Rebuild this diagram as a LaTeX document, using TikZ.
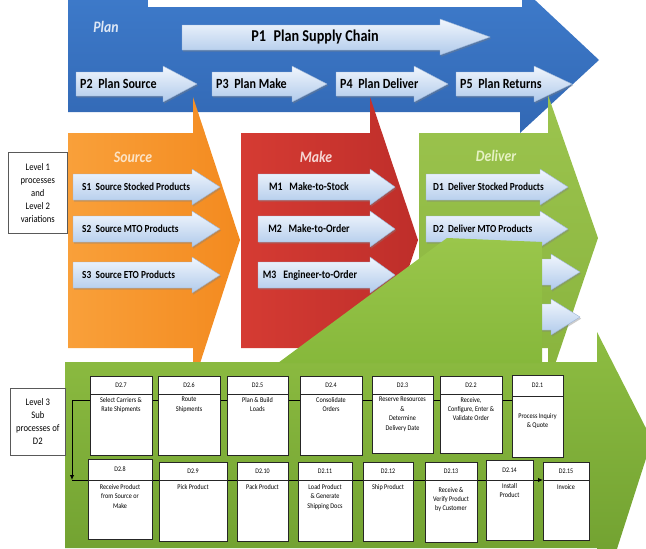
\documentclass[tikz,border=0pt]{standalone}
\usepackage{fontspec}
\setmainfont{Carlito}[FakeStretch=0.86]
\usetikzlibrary{shadows,arrows.meta}
\definecolor{bluetop}{HTML}{3E7BCB}
\definecolor{bluebot}{HTML}{3268B4}
\definecolor{orlt}{HTML}{F9A03A}
\definecolor{ordk}{HTML}{F38A1F}
\definecolor{redlt}{HTML}{D53B33}
\definecolor{reddk}{HTML}{BE2E2A}
\definecolor{grlt}{HTML}{9CC44E}
\definecolor{grdk}{HTML}{88B33D}
\definecolor{bandtop}{HTML}{8EBD42}
\definecolor{bandbot}{HTML}{6B9B2D}
\definecolor{calltop}{HTML}{9AC64B}
\definecolor{callbot}{HTML}{86B83B}
\definecolor{ltop}{HTML}{F1F6FD}
\definecolor{lbot}{HTML}{B0CAEB}
\definecolor{ledge}{HTML}{9BB4D6}
\definecolor{plantitle}{HTML}{DDE7F5}
\definecolor{srctitle}{HTML}{FCE3C6}
\definecolor{maketitle}{HTML}{F6D6D4}
\definecolor{deltitle}{HTML}{E6F2C4}
\newcommand{\harrow}[7]{\path[#1] (#2,#5-#6) -- (#3,#5-#6) -- (#3,#5-#7) -- (#4,#5) -- (#3,#5+#7) -- (#3,#5+#6) -- (#2,#5+#6) -- cycle;}
\newcommand{\lbox}[9]{%
  \node[lbox, minimum width={#3-#2}, minimum height={#6-#4}, anchor=north west] (#1) at (#2,#4) {};
  \draw[lboxline] (#2,#5) -- (#3,#5);
  \node[hdr] (#1h) at ({(#2+#3)/2},{(#4+#5)/2}) {#7};
  \node[btxt, anchor=north] (#1t) at ({(#2+#3)/2},#9) {#8};
}
\begin{document}
\begin{tikzpicture}[x=1pt,y=-1pt,
  lvl/.style={top color=ltop, bottom color=lbot, draw=ledge, line width=0.4pt,
    drop shadow={shadow xshift=1.2pt, shadow yshift=-1.6pt, opacity=0.4}},
  bluearrow/.style={top color=bluetop, bottom color=bluebot},
  orarrow/.style={left color=orlt, right color=ordk},
  redarrow/.style={left color=redlt, right color=reddk},
  grarrow/.style={top color=grlt, bottom color=grdk},
  band/.style={top color=bandtop, bottom color=bandbot},
  callout/.style={top color=calltop, bottom color=callbot},
  title/.style={font=\bfseries\itshape\fontsize{16}{18}\selectfont, inner sep=0pt},
  plab/.style={font=\bfseries\fontsize{14}{16}\selectfont, inner sep=0pt, text=black},
  slab/.style={font=\bfseries\fontsize{10.8}{12}\selectfont, inner sep=0pt, text=black},
  mlab/.style={font=\bfseries\fontsize{11.4}{12}\selectfont, inner sep=0pt, text=black},
  lvbox/.style={draw=black!65, fill=white, line width=0.6pt, align=center,
    font=\fontsize{10}{13}\selectfont, inner sep=1pt},
  lbox/.style={draw=black!85, fill=white, line width=0.8pt, inner sep=0pt,
    drop shadow={shadow xshift=1pt, shadow yshift=-1pt, opacity=0.3}},
  lboxline/.style={draw=black!85, line width=0.6pt},
  hdr/.style={font=\fontsize{7}{8}\selectfont, inner sep=0pt},
  btxt/.style={font=\fontsize{7.2}{9.4}\selectfont, inner sep=0pt, align=center},
  conn/.style={draw=black, line width=0.9pt},
  conntip/.style={-{Latex[length=5pt,width=4.5pt]}}
]
\useasboundingbox (0,0) rectangle (646,549);
\clip (0,0) rectangle (646,549);

% ---- Plan band
\path[bluearrow] (68,-5) -- (520,-5) -- (520,-14) -- (599,60) -- (520,133) -- (520,112) -- (68,112) -- cycle;
\path[fill=white] (148,-2) rectangle (522,7);

% ---- Level 1 arrows
\path[orarrow] (68,133) -- (193,133) -- (193,97) -- (240,240) -- (193,385) -- (193,348) -- (68,348) -- cycle;
\path[redarrow] (241,133) -- (370,133) -- (370,97) -- (418,240) -- (370,385) -- (370,348) -- (241,348) -- cycle;
\path[grarrow] (419,133) -- (548,133) -- (548,95) -- (598,238) -- (548,385) -- (548,348) -- (419,348) -- cycle;

% ---- Plan sub-arrows
\path[lvl] (182,25) -- (440,25) -- (440,19) -- (490,37) -- (440,55) -- (440,50) -- (182,50) -- cycle;
\harrow{lvl}{76}{163}{197}{84}{12}{18}
\harrow{lvl}{212}{292}{327}{84}{12}{18}
\harrow{lvl}{336}{414}{448}{84}{12}{18}
\harrow{lvl}{456}{534}{572}{84}{12}{18}

\node[title, text=plantitle] (tplan) at (106,27) {Plan};
\node[plab, font=\bfseries\fontsize{16.5}{18}\selectfont] (p1) at (315,37) {P1\hspace{0.45em}Plan Supply Chain};
\node[plab, anchor=west] (p2) at (80,84) {P2\hspace{0.4em}Plan Source};
\node[plab, anchor=west] (p3) at (216,84) {P3\hspace{0.4em}Plan Make};
\node[plab, anchor=west] (p4) at (340,84) {P4\hspace{0.4em}Plan Deliver};
\node[plab, anchor=west] (p5) at (460,84) {P5\hspace{0.4em}Plan Returns};

% ---- Level 2 arrows
\harrow{lvl}{73}{192}{220}{187}{13}{18}
\harrow{lvl}{73}{192}{220}{229}{13}{18}
\harrow{lvl}{73}{192}{220}{275}{13}{18}
\harrow{lvl}{258}{370}{395}{187}{13}{18}
\harrow{lvl}{258}{370}{395}{229}{13}{18}
\harrow{lvl}{258}{370}{395}{275}{13}{18}
\harrow{lvl}{426}{540}{568}{187}{13}{18}
\harrow{lvl}{426}{540}{568}{229}{13}{18}
\harrow{lvl}{430}{551}{580}{272}{13}{18}
\harrow{lvl}{430}{551}{580}{317}{13}{18}

\node[title, text=srctitle] (tsrc) at (133,157) {Source};
\node[title, text=maketitle] (tmake) at (316,157) {Make};
\node[title, text=deltitle] (tdel) at (496,156) {Deliver};

\node[slab, anchor=west] (s1) at (82,187) {S1\hspace{0.4em}Source Stocked Products};
\node[slab, anchor=west] (s2) at (82,229) {S2\hspace{0.4em}Source MTO Products};
\node[slab, anchor=west] (s3) at (82,275) {S3\hspace{0.4em}Source ETO Products};
\node[mlab] (m1) at (309,187) {M1\hspace{0.6em}Make-to-Stock};
\node[mlab] (m2) at (309,229) {M2\hspace{0.6em}Make-to-Order};
\node[mlab] (m3) at (310,275) {M3\hspace{0.6em}Engineer-to-Order};
\node[slab, anchor=west] (d1) at (433,187) {D1\hspace{0.4em}Deliver Stocked Products};
\node[slab, anchor=west] (d2) at (433,229) {D2\hspace{0.4em}Deliver MTO Products};

% ---- Level 3 band and callout
\path[band] (65,362) -- (597,362) -- (597,332) -- (652,440) -- (597,611) -- (597,548) -- (65,548) -- cycle;
\path[callout] (447,238) -- (542,242) -- (542,363) -- (278,363) -- cycle;

% ---- connectors' corner points
\coordinate (tl) at (72,400);
\coordinate (bl) at (72,480);

% ---- Level 3 boxes
\lbox{b27}{90}{152}{376}{394}{455}{D2.7}{Select Carriers \&\\Rate Shipments}{397}
\lbox{b26}{158}{220}{376}{394}{455}{D2.6}{Route\\Shipments}{397}
\lbox{b25}{227}{288}{376}{394}{455}{D2.5}{Plan \& Build\\Loads}{397}
\lbox{b24}{300}{362}{376}{394}{455}{D2.4}{Consolidate\\Orders}{397}
\lbox{b23}{372}{433}{376}{394}{453}{D2.3}{Reserve Resources\\\&\\Determine\\Delivery Date}{397}
\lbox{b22}{440}{502}{376}{394}{453}{D2.2}{Receive,\\Configure, Enter \&\\Validate Order}{397}
\lbox{b21}{512}{563}{375}{396}{457}{D2.1}{Process Inquiry\\\& Quote}{413}

\lbox{b28}{88}{152}{459}{480}{539}{D2.8}{Receive Product\\from Source or\\Make}{484}
\lbox{b29}{159}{227}{462}{480}{541}{D2.9}{Pick Product}{484}
\lbox{b210}{237}{288}{462}{480}{541}{D2.10}{Pack Product}{484}
\lbox{b211}{298}{352}{462}{480}{541}{D2.11}{Load Product\\\& Generate\\Shipping Docs}{484}
\lbox{b212}{363}{413}{462}{480}{541}{D2.12}{Ship Product}{484}
\lbox{b213}{425}{477}{462}{480}{542}{D2.13}{Receive \&\\Verify Product\\by Customer}{487}
\lbox{b214}{486}{533}{460}{480}{540}{D2.14}{Install\\Product}{483}
\lbox{b215}{543}{589}{462}{480}{540}{D2.15}{Invoice}{484}

% ---- connectors
\draw[conn] (b21.west|-tl) -- (b22.east|-tl);
\draw[conn] (b22.west|-tl) -- (b23.east|-tl);
\draw[conn] (b23.west|-tl) -- (b24.east|-tl);
\draw[conn] (b24.west|-tl) -- (b25.east|-tl);
\draw[conn] (b25.west|-tl) -- (b26.east|-tl);
\draw[conn] (b26.west|-tl) -- (b27.east|-tl);
\draw[conn, conntip] (b27.west|-tl) -- (tl) -- (bl);
\draw[conn] (bl) -- (b28.west|-bl);
\draw[conn] (b28.east|-bl) -- (b29.west|-bl);
\draw[conn] (b29.east|-bl) -- (b210.west|-bl);
\draw[conn] (b210.east|-bl) -- (b211.west|-bl);
\draw[conn] (b211.east|-bl) -- (b212.west|-bl);
\draw[conn] (b212.east|-bl) -- (b213.west|-bl);
\draw[conn] (b213.east|-bl) -- (b214.west|-bl);
\draw[conn, conntip] (b214.east|-bl) -- (b215.west|-bl);

% ---- side labels
\node[lvbox, minimum width=59pt, minimum height=81pt, anchor=north west] (lvl1) at (8,152) {Level 1\\processes\\and\\Level 2\\variations};
\node[lvbox, minimum width=55pt, minimum height=67pt, anchor=north west] (lvl3) at (10,388) {Level 3\\Sub\\processes of\\D2};
\end{tikzpicture}
\end{document}
